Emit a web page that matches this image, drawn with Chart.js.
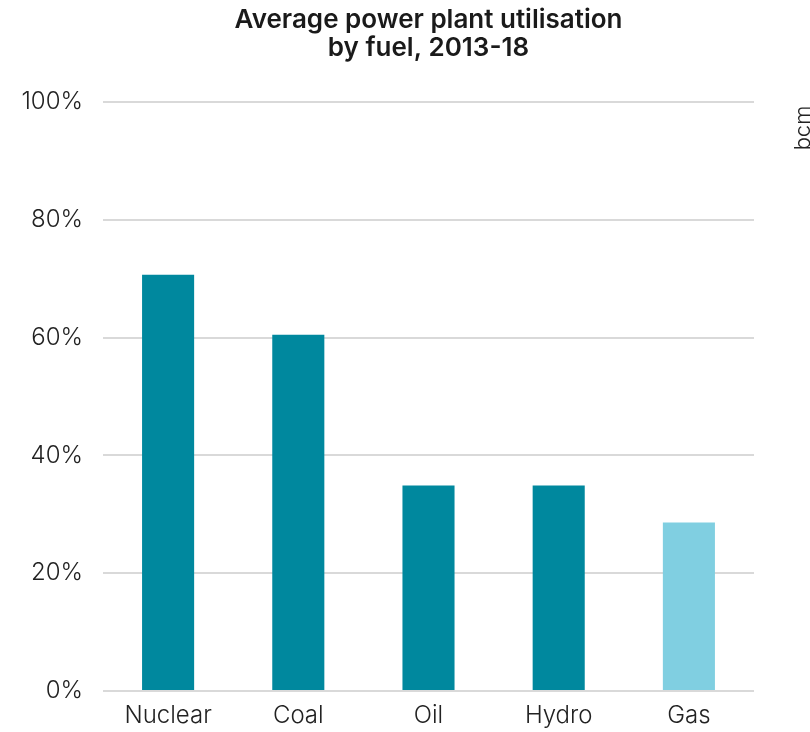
<!DOCTYPE html>
<html lang="en">
<head>
  <meta charset="UTF-8">
  <title>Average power plant utilisation</title>
  <script src="https://cdn.jsdelivr.net/npm/chart.js"></script>
  <style>
        body {
            margin: 0;
            background: #fff;
        }
        #wrap {
            width: 810px;
            height: 732px;
        }
    </style>
</head>
<body>
<div id="wrap"><canvas id="utilChart" width="810" height="732"></canvas></div>

<script>
        // data
        const fuels = ['Nuclear', 'Coal', 'Oil', 'Hydro', 'Gas'];
        const utilisation = [70.7, 60.5, 34.9, 34.9, 28.6];
        const barColours = ['#00889e', '#00889e', '#00889e', '#00889e', '#80cfe1'];
        const yTicks = [0, 20, 40, 60, 80, 100];

        const tickFont = { family: 'Inter, Roboto, sans-serif', size: 24, weight: '300' };

        // rotated "bcm" label hanging off the right edge
        const bcmLabel = {
            id: 'bcmLabel',
            afterDraw(chart) {
                const ctx = chart.ctx;
                ctx.save();
                ctx.translate(810, 128);
                ctx.rotate(-Math.PI / 2);
                ctx.font = '300 22px Inter, Roboto, sans-serif';
                ctx.fillStyle = '#222';
                ctx.textAlign = 'center';
                ctx.textBaseline = 'alphabetic';
                ctx.fillText('bcm', 0, 0);
                ctx.restore();
            }
        };

        const ctx = document.getElementById('utilChart').getContext('2d');
        new Chart(ctx, {
            type: 'bar',
            data: {
                labels: fuels,
                datasets: [{
                    label: 'Utilisation',
                    data: utilisation,
                    backgroundColor: barColours,
                    categoryPercentage: 1,
                    barPercentage: 0.4
                }]
            },
            options: {
                responsive: false,
                animation: false,
                layout: {
                    padding: { left: 0, right: 56, top: 6, bottom: 0 }
                },
                plugins: {
                    legend: { display: false },
                    tooltip: { enabled: false },
                    title: {
                        display: true,
                        fullSize: false,
                        text: ['Average power plant utilisation', 'by fuel, 2013-18'],
                        color: '#1a1a1a',
                        font: { family: 'Inter, Roboto, sans-serif', size: 26, weight: '600', lineHeight: 1.08 },
                        padding: { top: 0, bottom: 40 }
                    }
                },
                scales: {
                    x: {
                        grid: { display: false, drawTicks: false },
                        border: { display: false },
                        ticks: {
                            color: '#222',
                            padding: 10,
                            font: tickFont
                        },
                        afterFit(scale) { scale.height = 41; }
                    },
                    y: {
                        min: 0,
                        max: 100,
                        afterBuildTicks(scale) {
                            scale.ticks = yTicks.map(v => ({ value: v }));
                        },
                        grid: { color: '#d9d9d9', lineWidth: 2, drawTicks: false },
                        border: { display: false },
                        ticks: {
                            color: '#222',
                            padding: 20,
                            font: tickFont,
                            callback: v => v + '%'
                        },
                        afterFit(scale) { scale.width = 103; }
                    }
                }
            },
            plugins: [bcmLabel]
        });
    </script>
</body>
</html>
